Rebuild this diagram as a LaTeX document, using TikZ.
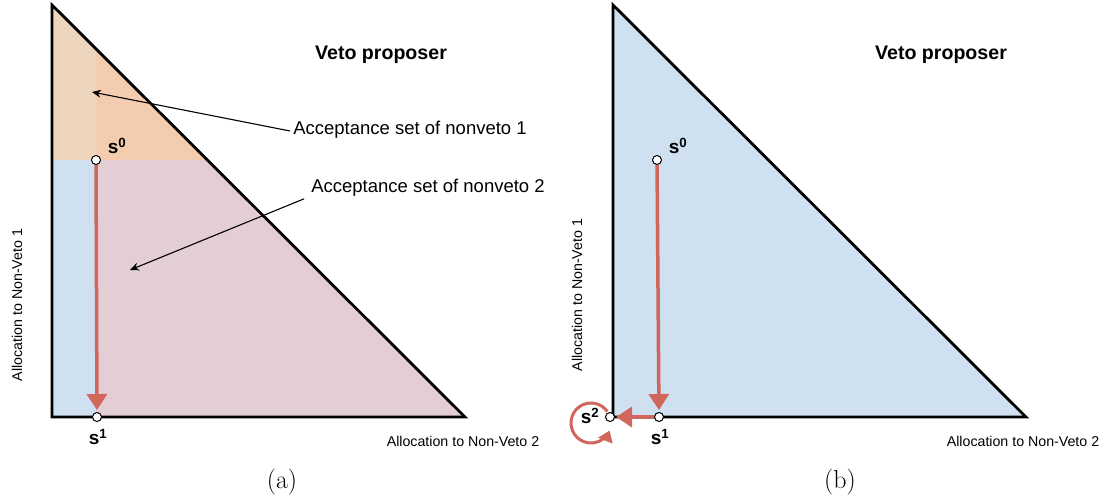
\documentclass[tikz,border=0pt]{standalone}
\usepackage{fontspec}
\setsansfont{Liberation Sans}
\usetikzlibrary{arrows.meta}
\definecolor{cblue}{HTML}{CFE0F1}
\definecolor{cpink}{HTML}{E3CED6}
\definecolor{corange}{HTML}{F4CDB1}
\definecolor{cbeige}{HTML}{EDD5BE}
\definecolor{cred}{HTML}{D0665C}
\tikzset{
  pt/.style={circle,draw=black,fill=white,line width=1pt,inner sep=0pt,minimum size=9pt},
  lbl/.style={font=\sffamily\fontsize{18.5}{21}\selectfont,inner sep=1pt},
  axl/.style={font=\sffamily\fontsize{14.2}{16}\selectfont,inner sep=0pt},
  slbl/.style={font=\sffamily\bfseries\fontsize{19}{21}\selectfont,inner sep=0pt},
  title/.style={font=\sffamily\bfseries\fontsize{19.6}{22}\selectfont},
  capt/.style={font=\fontsize{26}{28}\selectfont},
  move/.style={draw=cred,line width=3.5pt,-{Triangle[length=16pt,width=20pt]}},
  pointer/.style={draw=black,line width=1.1pt,-{Stealth[length=9pt,width=8pt]}},
  tri/.style={draw=black,line width=2.8pt,line join=miter},
}
\begin{document}
\begin{tikzpicture}[x=1pt,y=-1pt]
\useasboundingbox (0,0) rectangle (1106,502);
% ---------- (a) ----------
\fill[cblue] (52,160) rectangle (96,417);
\fill[cpink] (96,160) -- (207,160) -- (465,417) -- (96,417) -- cycle;
\fill[cbeige] (52,5) -- (96,49) -- (96,160) -- (52,160) -- cycle;
\fill[corange] (96,49) -- (207,160) -- (96,160) -- cycle;
\draw[tri] (52,5) -- (52,417) -- (465,417) -- cycle;
\node[pt] (a0) at (96,160) {};
\node[pt] (a1) at (97,417) {};
\draw[move,shorten >=2pt] (a0) -- (a1);
\node[slbl] at (117,146) {s\textsuperscript{0}};
\node[slbl] at (98,437) {s\textsuperscript{1}};
\node[title] at (381,55) {Veto proposer};
\node[lbl] (acc1) at (410,130) {Acceptance set of nonveto 1};
\node[lbl] (acc2) at (428,188) {Acceptance set of nonveto 2};
\coordinate (p1) at (92,92);
\coordinate (p2) at (130,270);
\draw[pointer] ([xshift=-2pt,yshift=-1pt]acc1.west) -- (p1);
\draw[pointer] ([xshift=-6pt,yshift=-1pt]acc2.south west) -- (p2);
\node[axl,rotate=90] at (17,305) {Allocation to Non-Veto 1};
\node[axl] at (463,441) {Allocation to Non-Veto 2};
\node[capt] at (282,482) {(a)};
% ---------- (b) ----------
\fill[cblue] (613,5) -- (613,417) -- (1026,417) -- cycle;
\draw[tri] (613,5) -- (613,417) -- (1026,417) -- cycle;
\node[pt] (b0) at (657,160) {};
\node[pt] (b1) at (659,417) {};
\node[pt] (b2) at (610,417) {};
\draw[move,shorten >=2pt] (b0) -- (b1);
\draw[move,shorten >=1pt] (b1) -- (b2);
\draw[draw=cred,line width=3pt,-{Triangle[length=11pt,width=15pt]}] ([shift={(-35:20)}]591,423) arc[start angle=-35,end angle=-338,radius=20];
\node[slbl] at (678,146) {s\textsuperscript{0}};
\node[slbl] at (660,437) {s\textsuperscript{1}};
\node[slbl] at (590,416) {s\textsuperscript{2}};
\node[title] at (941,55) {Veto proposer};
\node[axl,rotate=90] at (577,295) {Allocation to Non-Veto 1};
\node[axl] at (1023,441) {Allocation to Non-Veto 2};
\node[capt] at (840,482) {(b)};
\end{tikzpicture}
\end{document}
